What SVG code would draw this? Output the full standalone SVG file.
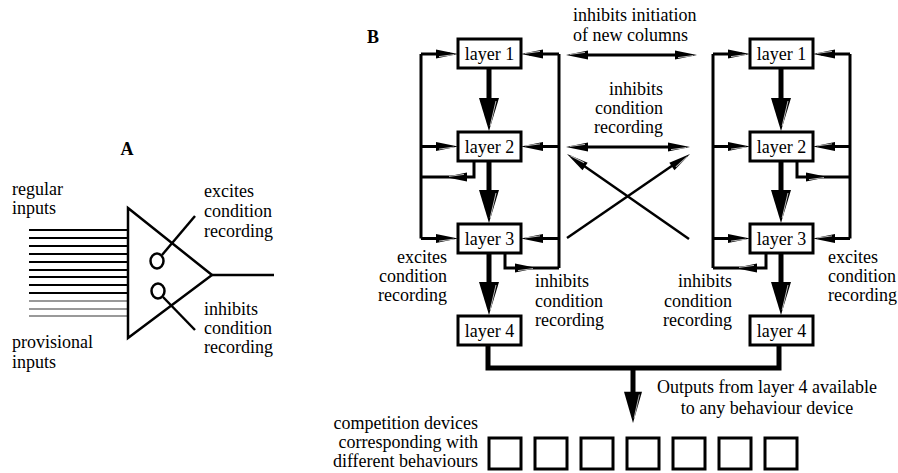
<svg xmlns="http://www.w3.org/2000/svg" xmlns:xlink="http://www.w3.org/1999/xlink" width="898" height="473" viewBox="0 0 898 473" font-family="'Liberation Serif', 'DejaVu Serif', serif">
<style>
text{font-family:'Liberation Serif','DejaVu Serif',serif;font-size:18px;fill:#000}
.b{font-weight:bold}
.r{text-anchor:end}
.m{text-anchor:middle}
.ln{stroke:#000;stroke-width:3;fill:none}
.thin{stroke:#000;stroke-width:2.5;fill:none}
.shaft{stroke:#000;stroke-width:5;fill:none}
.box{fill:#fff;stroke:#000;stroke-width:3}
.in{stroke:#000;stroke-width:2}
.pin{stroke:#999;stroke-width:2}
.hl{stroke:#bbb;stroke-width:1}
</style>
<defs>
<g id="hs"><polygon points="0,0 -22,-4.5 -22,4.5" fill="#000"/><line class="hl" x1="-19" y1="2.6" x2="-4" y2="0.6"/></g>
<g id="hb"><polygon points="0,0 -33,-10 -33,10" fill="#000"/><line class="hl" x1="-30" y1="-7" x2="-5" y2="-1.2"/></g>
</defs>
<rect width="898" height="473" fill="#fff"/>

<g id="panelA">
<text x="127" y="155" class="b m">A</text>
<text x="12" y="195">regular</text>
<text x="12" y="214">inputs</text>
<text x="12" y="348">provisional</text>
<text x="12" y="368">inputs</text>
<g id="inputs">
<line class="in" x1="29" y1="230" x2="128" y2="230"/>
<line class="in" x1="29" y1="238" x2="128" y2="238"/>
<line class="in" x1="29" y1="246" x2="128" y2="246"/>
<line class="in" x1="29" y1="254" x2="128" y2="254"/>
<line class="in" x1="29" y1="262" x2="128" y2="262"/>
<line class="in" x1="29" y1="270" x2="128" y2="270"/>
<line class="in" x1="29" y1="277" x2="128" y2="277"/>
<line class="in" x1="29" y1="285" x2="128" y2="285"/>
<line class="in" x1="29" y1="293" x2="128" y2="293"/>
<line class="pin" x1="29" y1="301" x2="128" y2="301"/>
<line class="pin" x1="29" y1="309" x2="128" y2="309"/>
<line class="pin" x1="29" y1="316" x2="128" y2="316"/>
</g>
<g id="neuron">
<polygon points="128,208 212,275 128,338" class="thin"/>
<line class="thin" x1="212" y1="275" x2="274" y2="275"/>
<ellipse cx="157" cy="261" rx="6.5" ry="7.5" class="thin"/>
<line class="thin" x1="162" y1="255" x2="195" y2="216"/>
<ellipse cx="158" cy="291" rx="6.5" ry="7.5" class="thin"/>
<line class="thin" x1="163" y1="297" x2="195" y2="330"/>
</g>
<text x="204" y="197">excites</text>
<text x="204" y="217">condition</text>
<text x="204" y="237">recording</text>
<text x="204" y="315">inhibits</text>
<text x="204" y="334">condition</text>
<text x="204" y="353">recording</text>
</g>

<text x="367" y="43" class="b">B</text>

<g id="connectors">
<line class="ln" x1="421" y1="54" x2="421" y2="238.5"/>
<line class="ln" x1="421" y1="54" x2="450" y2="54"/>
<line class="ln" x1="421" y1="146.5" x2="450" y2="146.5"/>
<line class="ln" x1="421" y1="238.5" x2="450" y2="238.5"/>
<use xlink:href="#hs" transform="translate(458,54)"/>
<use xlink:href="#hs" transform="translate(458,146.5)"/>
<use xlink:href="#hs" transform="translate(458,238.5)"/>
<line class="ln" x1="559" y1="54" x2="559" y2="268"/>
<line class="ln" x1="559" y1="54" x2="529" y2="54"/>
<line class="ln" x1="559" y1="146.5" x2="529" y2="146.5"/>
<line class="ln" x1="559" y1="238.5" x2="529" y2="238.5"/>
<use xlink:href="#hs" transform="translate(521,54) rotate(180)"/>
<use xlink:href="#hs" transform="translate(521,146.5) rotate(180)"/>
<use xlink:href="#hs" transform="translate(521,238.5) rotate(180)"/>
<polyline class="ln" points="474,161 474,177 421,177"/>
<use xlink:href="#hs" transform="translate(445,177) rotate(180)"/>
<polyline class="ln" points="505,253 505,268 559,268"/>
<use xlink:href="#hs" transform="translate(537,268)"/>
<line class="shaft" x1="489" y1="68" x2="489" y2="105"/>
<use xlink:href="#hb" transform="translate(489,131) rotate(90)"/>
<line class="shaft" x1="489" y1="161" x2="489" y2="198"/>
<use xlink:href="#hb" transform="translate(489,223) rotate(90)"/>
<line class="shaft" x1="489" y1="253" x2="489" y2="290"/>
<use xlink:href="#hb" transform="translate(489,315) rotate(90)"/>

<line class="ln" x1="713" y1="54" x2="713" y2="268"/>
<line class="ln" x1="713" y1="54" x2="742" y2="54"/>
<line class="ln" x1="713" y1="146.5" x2="742" y2="146.5"/>
<line class="ln" x1="713" y1="238.5" x2="742" y2="238.5"/>
<use xlink:href="#hs" transform="translate(750,54)"/>
<use xlink:href="#hs" transform="translate(750,146.5)"/>
<use xlink:href="#hs" transform="translate(750,238.5)"/>
<line class="ln" x1="850" y1="54" x2="850" y2="238.5"/>
<line class="ln" x1="850" y1="54" x2="821" y2="54"/>
<line class="ln" x1="850" y1="146.5" x2="821" y2="146.5"/>
<line class="ln" x1="850" y1="238.5" x2="821" y2="238.5"/>
<use xlink:href="#hs" transform="translate(813,54) rotate(180)"/>
<use xlink:href="#hs" transform="translate(813,146.5) rotate(180)"/>
<use xlink:href="#hs" transform="translate(813,238.5) rotate(180)"/>
<polyline class="ln" points="797,161 797,177 850,177"/>
<use xlink:href="#hs" transform="translate(828,177)"/>
<polyline class="ln" points="766,253 766,268 713,268"/>
<use xlink:href="#hs" transform="translate(735,268) rotate(180)"/>
<line class="shaft" x1="781" y1="68" x2="781" y2="105"/>
<use xlink:href="#hb" transform="translate(781,131) rotate(90)"/>
<line class="shaft" x1="781" y1="161" x2="781" y2="198"/>
<use xlink:href="#hb" transform="translate(781,223) rotate(90)"/>
<line class="shaft" x1="781" y1="253" x2="781" y2="290"/>
<use xlink:href="#hb" transform="translate(781,315) rotate(90)"/>

<line class="ln" x1="580" y1="55" x2="683" y2="55"/>
<use xlink:href="#hs" transform="translate(566,55) rotate(180)"/>
<use xlink:href="#hs" transform="translate(697,55)"/>
<line class="ln" x1="580" y1="147" x2="676" y2="147"/>
<use xlink:href="#hs" transform="translate(566,147) rotate(180)"/>
<use xlink:href="#hs" transform="translate(690,147)"/>
<line class="thin" x1="567" y1="238" x2="679" y2="161"/>
<use xlink:href="#hs" transform="translate(690,154) rotate(-34.5)"/>
<line class="thin" x1="689" y1="239" x2="577" y2="161"/>
<use xlink:href="#hs" transform="translate(567,154) rotate(214.8)"/>

<polyline class="shaft" points="488,345 488,368 779,368 779,345"/>
<line class="shaft" x1="633" y1="368" x2="633" y2="398"/>
<use xlink:href="#hb" transform="translate(633,423) rotate(90) scale(0.95,0.9)"/>
</g>

<g id="L1a"><rect class="box" x="458" y="39" width="63" height="29"/><text x="489.5" y="60" class="m">layer 1</text></g>
<g id="L2a"><rect class="box" x="458" y="132" width="63" height="29"/><text x="489.5" y="153" class="m">layer 2</text></g>
<g id="L3a"><rect class="box" x="458" y="224" width="63" height="29"/><text x="489.5" y="245" class="m">layer 3</text></g>
<g id="L4a"><rect class="box" x="458" y="316" width="63" height="29"/><text x="489.5" y="337" class="m">layer 4</text></g>
<g id="L1b"><rect class="box" x="750" y="39" width="63" height="29"/><text x="781.5" y="60" class="m">layer 1</text></g>
<g id="L2b"><rect class="box" x="750" y="132" width="63" height="29"/><text x="781.5" y="153" class="m">layer 2</text></g>
<g id="L3b"><rect class="box" x="750" y="224" width="63" height="29"/><text x="781.5" y="245" class="m">layer 3</text></g>
<g id="L4b"><rect class="box" x="750" y="316" width="63" height="29"/><text x="781.5" y="337" class="m">layer 4</text></g>

<g id="labelsB">
<text x="573" y="21">inhibits initiation</text>
<text x="573" y="41">of new columns</text>
<text x="663" y="95" class="r">inhibits</text>
<text x="663" y="114" class="r">condition</text>
<text x="663" y="133" class="r">recording</text>
<text x="447" y="263" class="r">excites</text>
<text x="447" y="282" class="r">condition</text>
<text x="447" y="301" class="r">recording</text>
<text x="535" y="287">inhibits</text>
<text x="535" y="307">condition</text>
<text x="535" y="326">recording</text>
<text x="732" y="287" class="r">inhibits</text>
<text x="732" y="307" class="r">condition</text>
<text x="732" y="326" class="r">recording</text>
<text x="828" y="263">excites</text>
<text x="828" y="282">condition</text>
<text x="828" y="301">recording</text>
<text x="767" y="393" class="m">Outputs from layer 4 available</text>
<text x="767" y="414" class="m">to any behaviour device</text>
<text x="478" y="429" class="r">competition devices</text>
<text x="478" y="448" class="r">corresponding with</text>
<text x="478" y="467" class="r">different behaviours</text>
</g>

<g id="devices">
<rect class="box" x="489" y="438" width="32" height="31"/>
<rect class="box" x="535" y="438" width="32" height="31"/>
<rect class="box" x="581" y="438" width="32" height="31"/>
<rect class="box" x="627" y="438" width="32" height="31"/>
<rect class="box" x="673" y="438" width="32" height="31"/>
<rect class="box" x="719" y="438" width="32" height="31"/>
<rect class="box" x="765" y="438" width="32" height="31"/>
</g>
</svg>
